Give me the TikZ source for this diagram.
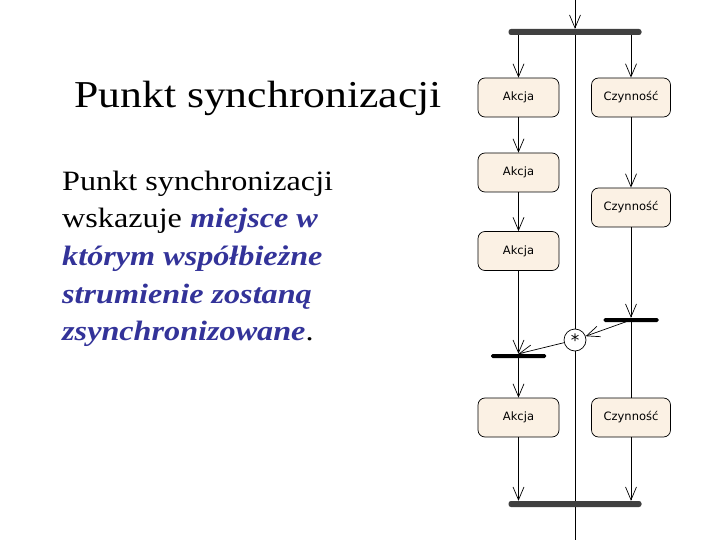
\documentclass[tikz,border=0pt]{standalone}
\usepackage{fontspec}
\setmainfont{Liberation Serif}
\newfontfamily\boxfont{DejaVu Sans}
\usetikzlibrary{arrows.meta}
\definecolor{boxfill}{RGB}{251,241,228}
\definecolor{darkbar}{RGB}{64,64,64}
\definecolor{textblue}{RGB}{51,51,153}
\tikzset{
  txt/.style={anchor=base west, inner sep=0pt},
  actbox/.style={draw=black, line width=0.7pt, fill=boxfill, rounded corners=7pt,
    minimum height=39pt, inner sep=0pt, font=\boxfont\fontsize{11.5}{13}\selectfont},
  akbox/.style={actbox, minimum width=81pt},
  czbox/.style={actbox, minimum width=79pt},
  bigbar/.style={fill=darkbar, draw=none, rounded corners=2.5pt, minimum height=6pt, minimum width=133pt, inner sep=0pt},
  syncbar/.style={fill=black, draw=none, rounded corners=1.5pt, minimum height=4pt, minimum width=55pt, inner sep=0pt},
  flow/.style={draw=black, line width=0.7pt},
  arr/.style={flow, -{Straight Barb[length=13pt,width=11pt,line width=0.7pt]}},
}
\newcommand{\hs}[1]{\scalebox{1.15}[1.0]{#1}}
\begin{document}
\begin{tikzpicture}[x=1pt,y=-1pt]
\useasboundingbox (0,0) rectangle (720,540);
% texts
\node[txt, font=\fontsize{38}{44}\selectfont] (title) at (74,108) {\hs{Punkt synchronizacji}};
\node[txt, font=\fontsize{28}{34}\selectfont] (l1) at (62,191) {\hs{Punkt synchronizacji}};
\node[txt, font=\fontsize{28}{34}\selectfont] (l2) at (62,228) {\hs{wskazuje \textcolor{textblue}{\textbf{\textit{miejsce w}}}}};
\node[txt, font=\fontsize{28}{34}\selectfont, text=textblue] (l3) at (62,265) {\hs{\textbf{\textit{którym współbieżne}}}};
\node[txt, font=\fontsize{28}{34}\selectfont, text=textblue] (l4) at (62,303) {\hs{\textbf{\textit{strumienie zostaną}}}};
\node[txt, font=\fontsize{28}{34}\selectfont] (l5) at (62,340) {\hs{\textcolor{textblue}{\textbf{\textit{zsynchronizowane}}}.}};
% diagram nodes
\coordinate (ctop) at (575,0);
\coordinate (cbot) at (575,540);
\node[bigbar] (tb) at (575,32) {};
\node[bigbar] (bb) at (575,504) {};
\node[akbox] (a1) at (518.5,97.5) {Akcja};
\node[czbox] (c1) at (631,97.5) {Czynność};
\node[akbox] (a2) at (518.5,172.5) {Akcja};
\node[czbox] (c2) at (631,207.5) {Czynność};
\node[akbox] (a3) at (518.5,251) {Akcja};
\node[syncbar] (rb) at (631,320) {};
\node[syncbar] (lb) at (518.5,356) {};
\node[draw=black, line width=0.7pt, fill=white, circle, minimum size=22pt, inner sep=0pt, font=\boxfont\fontsize{17}{17}\selectfont] (sp) at (575,340) {\raisebox{-0.28em}{*}};
\node[akbox] (a4) at (518.5,417.5) {Akcja};
\node[czbox] (c4) at (631,417.5) {Czynność};
% center line
\draw[arr] (ctop) -- (tb.north);
\draw[flow] (tb.south) -- (sp.north);
\draw[flow] (sp.south) -- (bb.north);
\draw[flow] (bb.south) -- (cbot);
% flows
\draw[arr] (a1 |- tb.south) -- (a1.north);
\draw[arr] (c1 |- tb.south) -- (c1.north);
\draw[arr] (a1.south) -- (a2.north);
\draw[arr] (c1.south) -- (c2.north);
\draw[arr] (a2.south) -- (a3.north);
\draw[arr] (c2.south) -- (rb.north);
\draw[arr] (a3.south) -- (lb.north);
\draw[arr] (rb.center) -- (sp);
\draw[arr] (sp) -- (lb.north);
\draw[flow] (rb.south) -- (c4.north);
\draw[arr] (lb.south) -- (a4.north);
\draw[arr] (a4.south) -- (a4 |- bb.north);
\draw[arr] (c4.south) -- (c4 |- bb.north);
\end{tikzpicture}
\end{document}
